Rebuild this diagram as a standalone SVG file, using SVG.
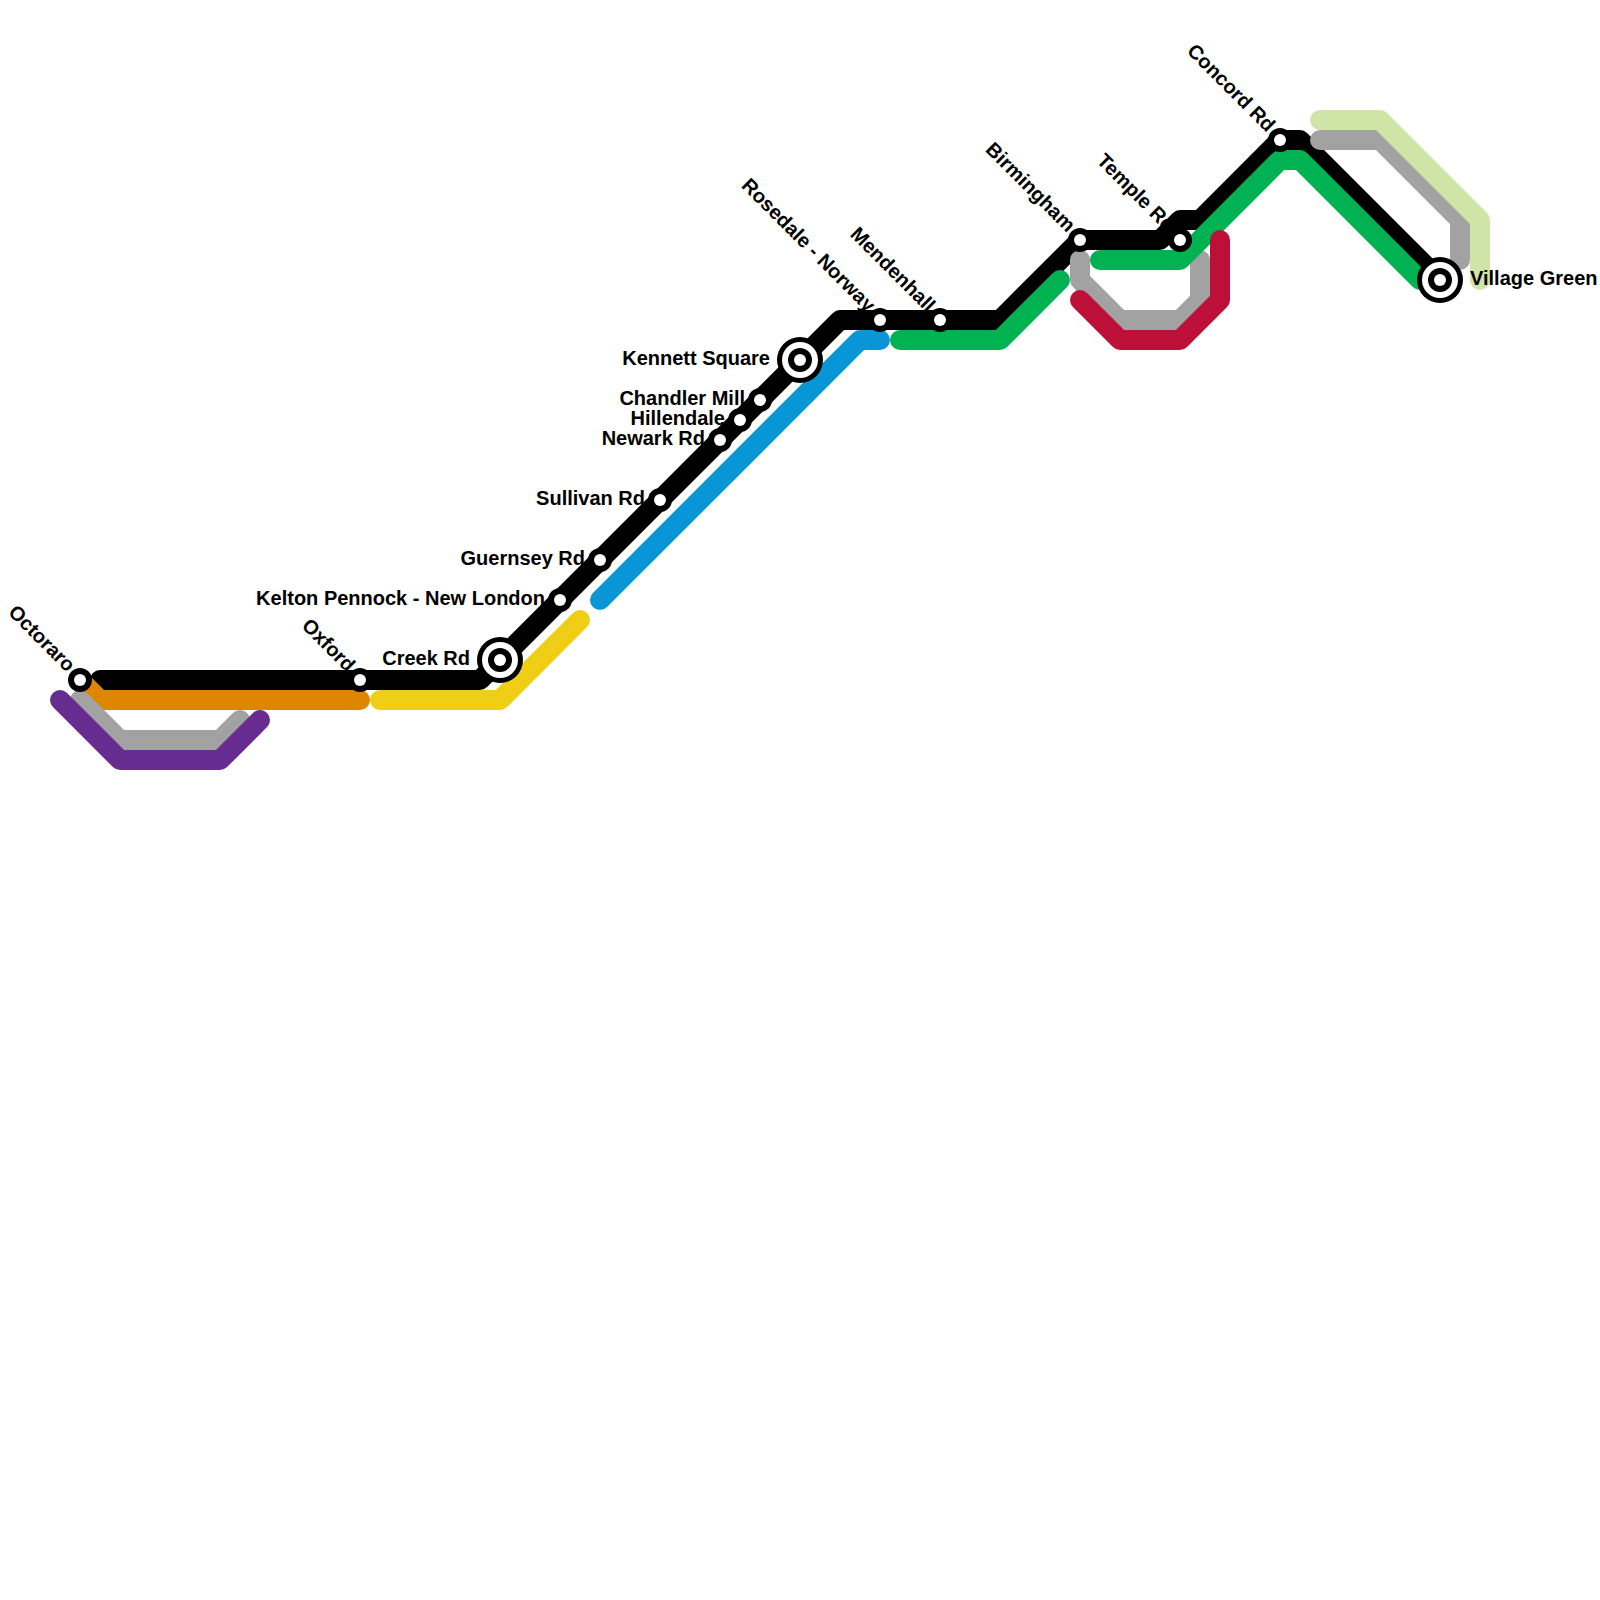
<svg xmlns="http://www.w3.org/2000/svg" width="1600" height="1600" viewBox="0 0 1600 1600">
<style>
.l{fill:none;stroke-width:20;stroke-linecap:round;stroke-linejoin:round}
.o{fill:#000}.w{fill:#fff}
text{font-family:"Liberation Sans",Arial,sans-serif;font-size:20px;font-weight:bold;fill:#000}
.e{text-anchor:end}
</style>
<rect width="1600" height="1600" fill="#fff"/>
<g id="connectors">
<path class="l" stroke="#000" d="M100 680H480L840 320H1000L1080 240H1160L1180 220H1200L1280 140H1300L1440 280"/>
<path class="l" stroke="#df8600" d="M80 680L100 700H360"/>
<path class="l" stroke="#a2a2a2" d="M80 700L120 740H220L240 720"/>
<path class="l" stroke="#a2a2a2" d="M1080 260V280L1120 320H1180L1200 300V260"/>
<path class="l" stroke="#a2a2a2" d="M1320 140H1380L1460 220V260"/>
<path class="l" stroke="#f0ce15" d="M380 700H500L580 620"/>
<path class="l" stroke="#0896d7" d="M600 600L860 340H880"/>
<path class="l" stroke="#00b251" d="M900 340H1000L1060 280"/>
<path class="l" stroke="#00b251" d="M1100 260H1180L1280 160H1300L1420 280"/>
<path class="l" stroke="#cfe4a7" d="M1320 120H1380L1480 220V280"/>
<path class="l" stroke="#bd1038" d="M1080 300L1120 340H1180L1220 300V240"/>
<path class="l" stroke="#662c90" d="M60 700L120 760H220L260 720"/>
</g>
<g id="n-octoraro"><circle class="o" cx="80" cy="680" r="12"/><circle class="w" cx="80" cy="680" r="6"/><text class="e" transform="translate(67 673) rotate(45)">Octoraro</text></g>
<g id="n-oxford"><circle class="o" cx="360" cy="680" r="12"/><circle class="w" cx="360" cy="680" r="6"/><text class="e" transform="translate(347 673) rotate(45)">Oxford</text></g>
<g id="n-creek"><circle class="o" cx="500" cy="660" r="23"/><circle class="w" cx="500" cy="660" r="18"/><circle class="o" cx="500" cy="660" r="12"/><circle class="w" cx="500" cy="660" r="6"/><text class="e" x="470" y="665">Creek Rd</text></g>
<g id="n-kelton"><circle class="o" cx="560" cy="600" r="12"/><circle class="w" cx="560" cy="600" r="6"/><text class="e" x="545" y="605">Kelton Pennock - New London</text></g>
<g id="n-guernsey"><circle class="o" cx="600" cy="560" r="12"/><circle class="w" cx="600" cy="560" r="6"/><text class="e" x="585" y="565">Guernsey Rd</text></g>
<g id="n-sullivan"><circle class="o" cx="660" cy="500" r="12"/><circle class="w" cx="660" cy="500" r="6"/><text class="e" x="645" y="505">Sullivan Rd</text></g>
<g id="n-newark"><circle class="o" cx="720" cy="440" r="12"/><circle class="w" cx="720" cy="440" r="6"/><text class="e" x="705" y="445">Newark Rd</text></g>
<g id="n-hillendale"><circle class="o" cx="740" cy="420" r="12"/><circle class="w" cx="740" cy="420" r="6"/><text class="e" x="725" y="425">Hillendale</text></g>
<g id="n-chandler"><circle class="o" cx="760" cy="400" r="12"/><circle class="w" cx="760" cy="400" r="6"/><text class="e" x="745" y="405">Chandler Mill</text></g>
<g id="n-kennett"><circle class="o" cx="800" cy="360" r="23"/><circle class="w" cx="800" cy="360" r="18"/><circle class="o" cx="800" cy="360" r="12"/><circle class="w" cx="800" cy="360" r="6"/><text class="e" x="770" y="365">Kennett Square</text></g>
<g id="n-rosedale"><circle class="o" cx="880" cy="320" r="12"/><circle class="w" cx="880" cy="320" r="6"/><text class="e" transform="translate(867 313) rotate(45)">Rosedale - Norway</text></g>
<g id="n-mendenhall"><circle class="o" cx="940" cy="320" r="12"/><circle class="w" cx="940" cy="320" r="6"/><text class="e" transform="translate(927 313) rotate(45)">Mendenhall</text></g>
<g id="n-birmingham"><circle class="o" cx="1080" cy="240" r="12"/><circle class="w" cx="1080" cy="240" r="6"/><text class="e" transform="translate(1067 233) rotate(45)">Birmingham</text></g>
<g id="n-temple"><circle class="o" cx="1180" cy="240" r="12"/><circle class="w" cx="1180" cy="240" r="6"/><text class="e" transform="translate(1167 233) rotate(45)">Temple Rd</text></g>
<g id="n-concord"><circle class="o" cx="1280" cy="140" r="12"/><circle class="w" cx="1280" cy="140" r="6"/><text class="e" transform="translate(1267 133) rotate(45)">Concord Rd</text></g>
<g id="n-village"><circle class="o" cx="1440" cy="280" r="23"/><circle class="w" cx="1440" cy="280" r="18"/><circle class="o" cx="1440" cy="280" r="12"/><circle class="w" cx="1440" cy="280" r="6"/><text x="1470" y="285">Village Green</text></g>
</svg>
